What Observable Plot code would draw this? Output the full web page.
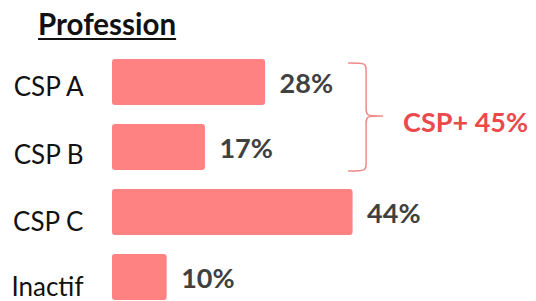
<!DOCTYPE html>
<html>
<head>
<meta charset="utf-8">
<script src="https://cdn.jsdelivr.net/npm/d3@7"></script>
<script src="https://cdn.jsdelivr.net/npm/@observablehq/plot@0.6"></script>
<style>
  html, body { margin: 0; padding: 0; background: #fff; }
  #wrap { width: 536px; height: 301px; overflow: hidden; position: relative; }
  #title { position: relative; height: 45px; }
  #title span {
    position: absolute; left: 38px; top: 10px;
    font-family: Lato, "Open Sans", sans-serif; font-weight: 700; font-size: 29.5px; line-height: 28px;
    color: #111; text-decoration: underline; text-decoration-thickness: 2px; text-underline-offset: 3px;
  }
</style>
</head>
<body>
<div id="wrap">
  <div id="title"><span>Profession</span></div>
  <div id="chart"></div>
</div>
<script>
const categories = ["CSP A", "CSP B", "CSP C", "Inactif"];
const values = [28, 17, 44, 10];
const groupLabel = "CSP+";
const groupValue = 45;
const groupMembers = ["CSP A", "CSP B"];

const data = categories.map((c, i) => ({category: c, value: values[i]}));
const font = "Lato, 'Open Sans', sans-serif";

function braceMark(index, scales, vals, dimensions) {
  const y = scales.y, x = scales.x;
  const bw = typeof y.bandwidth === "function" ? y.bandwidth() : y.bandwidth;
  const top = y(groupMembers[0]) + 4;
  const bottom = y(groupMembers[groupMembers.length - 1]) + bw + 1;
  const mid = (top + bottom) / 2 - 1;
  const x0 = x(43) + 1;      // brace ends
  const xs = x0 + 18;        // spine
  const xt = xs + 17;        // tip
  const r = 9;
  const path = [
    `M${x0},${top}`,
    `C${xs},${top} ${xs},${top} ${xs},${top + r}`,
    `L${xs},${mid - r}`,
    `C${xs},${mid} ${xs},${mid} ${xt},${mid}`,
    `M${xs},${mid + r}`,
    `C${xs},${mid} ${xs},${mid} ${xt},${mid}`,
    `M${xs},${mid + r}`,
    `L${xs},${bottom - r}`,
    `C${xs},${bottom} ${xs},${bottom} ${x0},${bottom}`
  ].join(" ");
  const g = d3.create("svg:g");
  g.append("path").attr("d", path).attr("fill", "none")
    .attr("stroke", "#f08a8a").attr("stroke-width", 1.5);
  g.append("text")
    .attr("x", xt + 20).attr("y", mid + 7)
    .attr("dy", "0.32em")
    .attr("text-anchor", "start")
    .attr("fill", "#ea4a4a")
    .attr("font-family", font).attr("font-weight", 700).attr("font-size", 27)
    .text(`${groupLabel} ${groupValue}%`);
  return g.node();
}

const labelDy = [5, 8, 10, 10];

const chart = Plot.plot({
  width: 536,
  height: 256,
  marginLeft: 112,
  marginRight: 3,
  marginTop: 13,
  marginBottom: 0,
  x: {domain: [0, 77], axis: null},
  y: {domain: categories, axis: null, paddingInner: 0.3, paddingOuter: 0},
  style: {fontFamily: font, background: "transparent"},
  marks: [
    Plot.barX(data, {x: "value", y: "category", fill: "#ff8282", rx: 3}),
    Plot.text(data, {
      x: "value", y: "category", text: d => `${d.value}%`,
      textAnchor: "start", dx: 14, dy: 2,
      fill: "#404040", fontWeight: 700, fontSize: 27
    }),
    ...categories.map((c, i) => Plot.text([c], {
      x: 0, y: d => d, text: d => d, textAnchor: "end", dx: -29, dy: labelDy[i],
      fill: "#111", fontSize: 26
    })),
    braceMark
  ]
});
document.getElementById("chart").appendChild(chart);
</script>
</body>
</html>
